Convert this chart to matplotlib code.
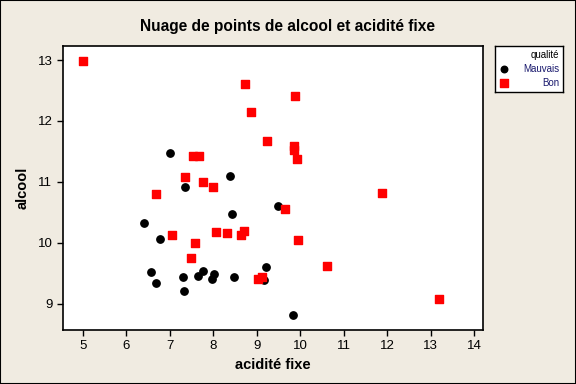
import matplotlib
matplotlib.use("Agg")
import matplotlib.pyplot as plt
from matplotlib.patches import Rectangle

# Mauvais (black circles)
mauvais_acidite = [7.00, 8.38, 7.35, 9.49, 8.43, 6.40, 6.77, 9.21, 6.57, 7.76,
                   7.65, 8.02, 7.97, 8.48, 7.30, 6.68, 9.17, 7.33, 9.83]
mauvais_alcool = [11.48, 11.10, 10.92, 10.61, 10.48, 10.33, 10.07, 9.61, 9.52, 9.54,
                  9.46, 9.49, 9.41, 9.44, 9.43, 9.34, 9.39, 9.20, 8.82]

# Bon (red squares)
bon_acidite = [5.00, 8.73, 8.87, 9.88, 9.24, 9.86, 9.86, 9.93, 7.53, 7.67,
               7.35, 7.76, 7.99, 6.68, 11.88, 9.65, 7.05, 8.06, 8.31, 8.64,
               8.71, 7.58, 9.95, 7.49, 10.62, 9.03, 9.12, 13.20]
bon_alcool = [12.98, 12.61, 12.15, 12.41, 11.67, 11.59, 11.52, 11.38, 11.43, 11.43,
              11.08, 11.00, 10.92, 10.80, 10.82, 10.56, 10.13, 10.18, 10.16, 10.13,
              10.20, 10.00, 10.05, 9.75, 9.62, 9.41, 9.43, 9.08]

x_ticks = [5, 6, 7, 8, 9, 10, 11, 12, 13, 14]
y_ticks = [9, 10, 11, 12, 13]

BG = "#f0ebe1"
FONT = "Liberation Sans"

fig = plt.figure(figsize=(5.76, 3.84), dpi=100, facecolor=BG)
fig.patches.append(Rectangle((0, 0), 1, 1, transform=fig.transFigure,
                             fill=False, edgecolor="black", linewidth=1.5))

ax = fig.add_axes([0.109, 0.141, 0.729, 0.739])
ax.set_facecolor("white")
ax.scatter(mauvais_acidite, mauvais_alcool, s=28, marker="o", color="black", zorder=3)
ax.scatter(bon_acidite, bon_alcool, s=36, marker="s", color="#ff0000", zorder=3)

ax.set_xlim(4.54, 14.2)
ax.set_ylim(8.57, 13.23)
ax.set_xticks(x_ticks)
ax.set_yticks(y_ticks)
ax.tick_params(direction="out", length=4, width=1, labelsize=9.5, color="black")
for lab in ax.get_xticklabels() + ax.get_yticklabels():
    lab.set_family(FONT)
for sp in ax.spines.values():
    sp.set_linewidth(1.2)

ax.set_xlabel("acidité fixe", family=FONT, fontweight="bold", fontsize=10.5, labelpad=4)
ax.set_ylabel("alcool", family=FONT, fontweight="bold", fontsize=10.5, labelpad=6)
fig.text(0.5, 0.93, "Nuage de points de alcool et acidité fixe", ha="center", va="center",
         family=FONT, fontweight="bold", fontsize=11.2)

# legend box
lg = fig.add_axes([495 / 576, 1 - 92 / 384, 68 / 576, 46 / 384])
lg.set_facecolor("white")
lg.set_xlim(0, 68)
lg.set_ylim(46, 0)
lg.set_xticks([])
lg.set_yticks([])
for sp in lg.spines.values():
    sp.set_linewidth(1)
lg.text(64, 9, "qualité", ha="right", va="center", family=FONT, fontsize=7)
lg.scatter([9], [23], s=22, marker="o", color="black")
lg.text(64, 23, "Mauvais", ha="right", va="center", family=FONT, fontsize=7, color="#1a1a6e")
lg.scatter([9], [37], s=26, marker="s", color="#ff0000")
lg.text(64, 37, "Bon", ha="right", va="center", family=FONT, fontsize=7, color="#1a1a6e")

fig.savefig("out.png", dpi=100, facecolor=BG)
